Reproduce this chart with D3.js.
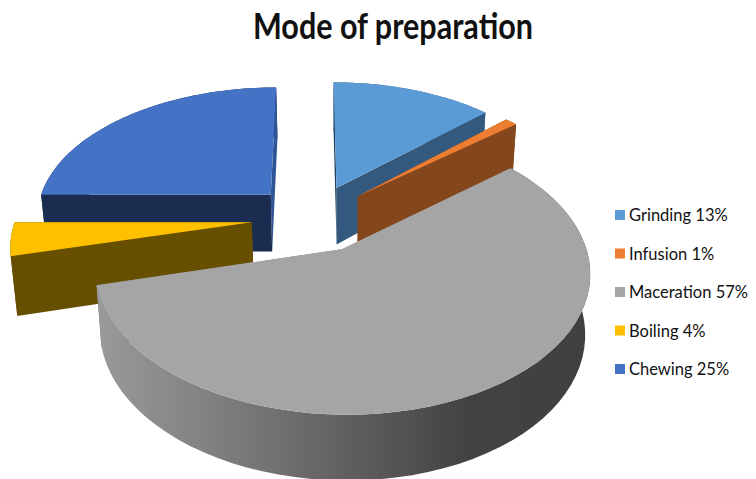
<!DOCTYPE html>
<meta charset="utf-8">
<script src="https://d3js.org/d3.v7.min.js"></script>
<style>
  body { margin: 0; background: #fff; }
  text { font-family: Lato, sans-serif; fill: #111; }
</style>
<div id="my_dataviz"></div>
<script>
  // chart data
  var categories = ["Grinding", "Infusion", "Maceration", "Boiling", "Chewing"];
  var percents = [13, 1, 57, 4, 25];
  var topColors = ["#5b9bd5", "#ed7d31", "#a5a5a5", "#ffc000", "#4472c4"];
  var wallColors = ["#34597f", "#84461b", "#808080", "#665000", "#1a2c50"];
  var startFaceColors = ["#1f3f5f", "#84461b", "#9a9a9a", "#665000", "#1a2c50"];
  var endFaceColors = ["#34597f", "#84461b", "#808080", "#665000", "#2f5597"];
  var drawOrder = [4, 0, 1, 3, 2];

  var width = 756, height = 479;

  // 3d pie layout, fitted on the picture
  var cx = 313, cy = 218, R = 236, K = 130, persp = 0.151;
  var explode = 0.26, depth = 58, depthGrow = 0.11, vx = 340, shrink = 0.98;

  var svg = d3.select("#my_dataviz").append("svg")
    .attr("width", width).attr("height", height);

  var grad = svg.append("defs").append("linearGradient")
    .attr("id", "wallGrad").attr("gradientUnits", "userSpaceOnUse")
    .attr("x1", 95).attr("x2", 588).attr("y1", 0).attr("y2", 0);
  [[0, "#9a9a9a"], [0.22, "#828282"], [0.5, "#616161"], [0.76, "#424242"], [1, "#404040"]]
    .forEach(function (s) {
      grad.append("stop").attr("offset", s[0]).attr("stop-color", s[1]);
    });

  // x,y are on the pie plane, unit radius, y towards the viewer. bottom = lower face
  function project(x, y, bottom) {
    var s = 1 / (1 - persp * y);
    var px = cx + R * x * s;
    var py = cy + K * y * s;
    if (bottom) {
      px = vx + (px - vx) * shrink;
      py += depth * (1 + depthGrow * y);
    }
    return [px, py];
  }

  var pie = d3.pie().sort(null)(percents);
  var line = d3.line();

  function slice(d) {
    var mid = (d.startAngle + d.endAngle) / 2;
    var ox = explode * Math.sin(mid), oy = -explode * Math.cos(mid);
    var rim = d3.range(0, 61).map(function (i) {
      var a = d.startAngle + (d.endAngle - d.startAngle) * i / 60;
      return [ox + Math.sin(a), oy - Math.cos(a)];
    });
    return { ox: ox, oy: oy, rim: rim };
  }

  function pts(list, bottom) {
    return list.map(function (p) { return project(p[0], p[1], bottom); });
  }

  drawOrder.forEach(function (i) {
    var s = slice(pie[i]);
    var g = svg.append("g");
    var apex = [s.ox, s.oy];
    var first = s.rim[0], last = s.rim[s.rim.length - 1];
    var isBig = categories[i] == "Maceration";

    function outerWall() {
      g.append("path")
        .attr("d", line(pts(s.rim, false).concat(pts(s.rim.slice().reverse(), true))) + "Z")
        .attr("fill", isBig ? "url(#wallGrad)" : wallColors[i]);
    }

    // the big slice shows its round wall in front, the others their cut faces
    if (!isBig) outerWall();
    g.append("path")
      .attr("d", line(pts([apex, last], false).concat(pts([last, apex], true))) + "Z")
      .attr("fill", endFaceColors[i]);
    g.append("path")
      .attr("d", line(pts([apex, first], false).concat(pts([first, apex], true))) + "Z")
      .attr("fill", startFaceColors[i]);
    if (isBig) outerWall();

    // top
    g.append("path")
      .attr("d", line(pts([apex].concat(s.rim), false)) + "Z")
      .attr("fill", topColors[i]);
  });

  // title
  svg.append("text")
    .attr("x", 393).attr("y", 39)
    .attr("text-anchor", "middle")
    .attr("textLength", 280).attr("lengthAdjust", "spacingAndGlyphs")
    .style("font-size", "36px").style("font-weight", "700")
    .text("Mode of preparation");

  // legend
  var legendY = d3.scalePoint().domain(categories).range([215, 369]);
  var legend = svg.selectAll(".legend").data(categories).enter().append("g")
    .attr("transform", function (d) { return "translate(0," + legendY(d) + ")"; });
  legend.append("rect")
    .attr("x", 615).attr("y", -5).attr("width", 10).attr("height", 10)
    .attr("fill", function (d, i) { return topColors[i]; });
  legend.append("text")
    .attr("x", 629).attr("y", 6)
    .style("font-size", "16.5px")
    .text(function (d, i) { return d + " " + percents[i] + "%"; });
</script>
